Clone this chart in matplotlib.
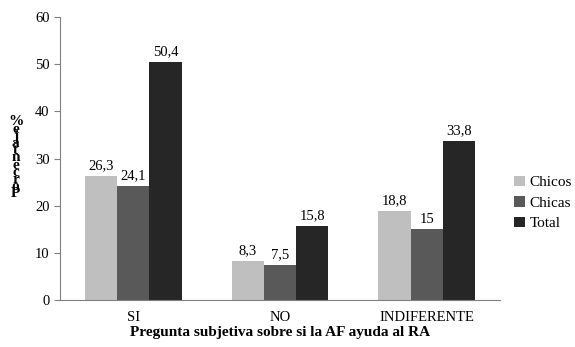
import matplotlib
matplotlib.use("Agg")
import matplotlib.pyplot as plt
import numpy as np

categories = ["SI", "NO", "INDIFERENTE"]
series_names = ["Chicos", "Chicas", "Total"]
chicos = [26.3, 8.3, 18.8]
chicas = [24.1, 7.5, 15]
total = [50.4, 15.8, 33.8]
labels_chicos = ["26,3", "8,3", "18,8"]
labels_chicas = ["24,1", "7,5", "15"]
labels_total = ["50,4", "15,8", "33,8"]
colors = ["#bfbfbf", "#595959", "#262626"]

plt.rcParams['font.family'] = ['Liberation Serif', 'DejaVu Serif']

fig = plt.figure(figsize=(5.75, 3.47), dpi=100)
ax = fig.add_axes([0.104, 0.135, 0.766, 0.816])

x = np.arange(len(categories))
w = 0.22
for i, (vals, labs) in enumerate([(chicos, labels_chicos), (chicas, labels_chicas), (total, labels_total)]):
    pos = x + (i - 1) * w
    ax.bar(pos, vals, width=w, color=colors[i], label=series_names[i])
    for p, v, l in zip(pos, vals, labs):
        ax.text(p, v + 0.8, l, ha='center', va='bottom', fontsize=10.5)

ax.set_xlim(-0.5, 2.5)
ax.set_ylim(0, 60)
ax.set_yticks(range(0, 61, 10))
ax.tick_params(axis='y', labelsize=10.5, length=4, color='#808080')
ax.tick_params(axis='x', labelsize=10.5, length=0, pad=8)
ax.set_xticks(x)
ax.set_xticklabels(categories)
for s in ['top', 'right']:
    ax.spines[s].set_visible(False)
ax.spines['left'].set_color('#808080')
ax.spines['bottom'].set_color('#808080')

ax.set_xlabel("Pregunta subjetiva sobre si la AF ayuda al RA", fontsize=11, fontweight='bold', labelpad=1)
fig.text(0.027, 0.545, "%\ne\nj\na\nt\nn\ne\nc\nr\no\nP", ha='center', va='center',
         fontsize=11, fontweight='bold', linespacing=0.42)

leg = ax.legend(loc='center left', bbox_to_anchor=(1.0, 0.343), frameon=False, fontsize=11,
                handlelength=0.7, handleheight=0.7, handletextpad=0.3, labelspacing=0.45)

fig.savefig("out.png", dpi=100)
